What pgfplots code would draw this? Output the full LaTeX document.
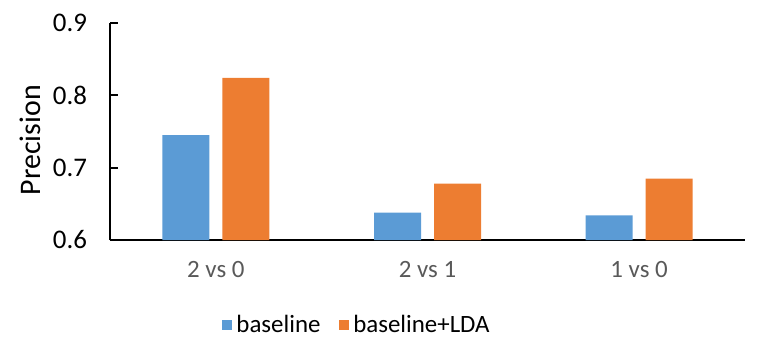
\documentclass[border=0pt]{standalone}
\usepackage{pgfplots}
\pgfplotsset{compat=1.18}
\usepackage{fontspec}
\setmainfont{Carlito}
\definecolor{cblue}{RGB}{91,155,213}
\definecolor{corange}{RGB}{237,125,49}
\definecolor{lgray}{RGB}{89,89,89}
\begin{document}
\begin{tikzpicture}
\begin{axis}[
  scale only axis, width=317.5bp, height=108.5bp,
  ybar=6.5bp, bar width=23.5bp,
  xmin=-0.5, xmax=2.5, ymin=0.6, ymax=0.9,
  xtick={0,1,2}, xticklabels={2 vs 0,2 vs 1,1 vs 0},
  ytick={0.6,0.7,0.8,0.9},
  axis x line=bottom, axis y line=left,
  axis line style={line width=1bp,-},
  x tick style={draw=none},
  y tick style={line width=1bp,black},
  tick align=inside, major tick length=4bp,
  /pgf/number format/assume math mode=true,
  /pgf/number format/fixed, /pgf/number format/fixed zerofill, /pgf/number format/precision=1,
  yticklabel style={font=\fontsize{13.5}{15}\selectfont, xshift=-8bp},
  xticklabel style={font=\fontsize{12.5}{14}\selectfont, text=lgray, yshift=-7bp},
  ylabel={Precision},
  ylabel style={font=\fontsize{15}{17}\selectfont, at={(axis description cs:0,0.46)}, anchor=center, yshift=40bp},
  legend columns=2,
  legend style={draw=none, fill=none, at={(axis description cs:0.39,-0.392)}, anchor=center,
    font=\fontsize{12.5}{14}\selectfont, column sep=0bp,
    /tikz/every even column/.append style={column sep=7bp}},
  legend image code/.code={\fill[#1,draw=none] (0bp,-2.7bp) rectangle (5.4bp,2.7bp);},
]
\addplot[fill=cblue, draw=none] coordinates {(0,0.745) (1,0.638) (2,0.634)};
\addplot[fill=corange, draw=none] coordinates {(0,0.824) (1,0.678) (2,0.685)};
\legend{baseline, baseline+LDA}
\coordinate (o) at (rel axis cs:0,0);
\end{axis}
\pgfresetboundingbox
\useasboundingbox (o) ++(-55bp,-56.5bp) rectangle ++(380bp,176.5bp);
\end{tikzpicture}
\end{document}
